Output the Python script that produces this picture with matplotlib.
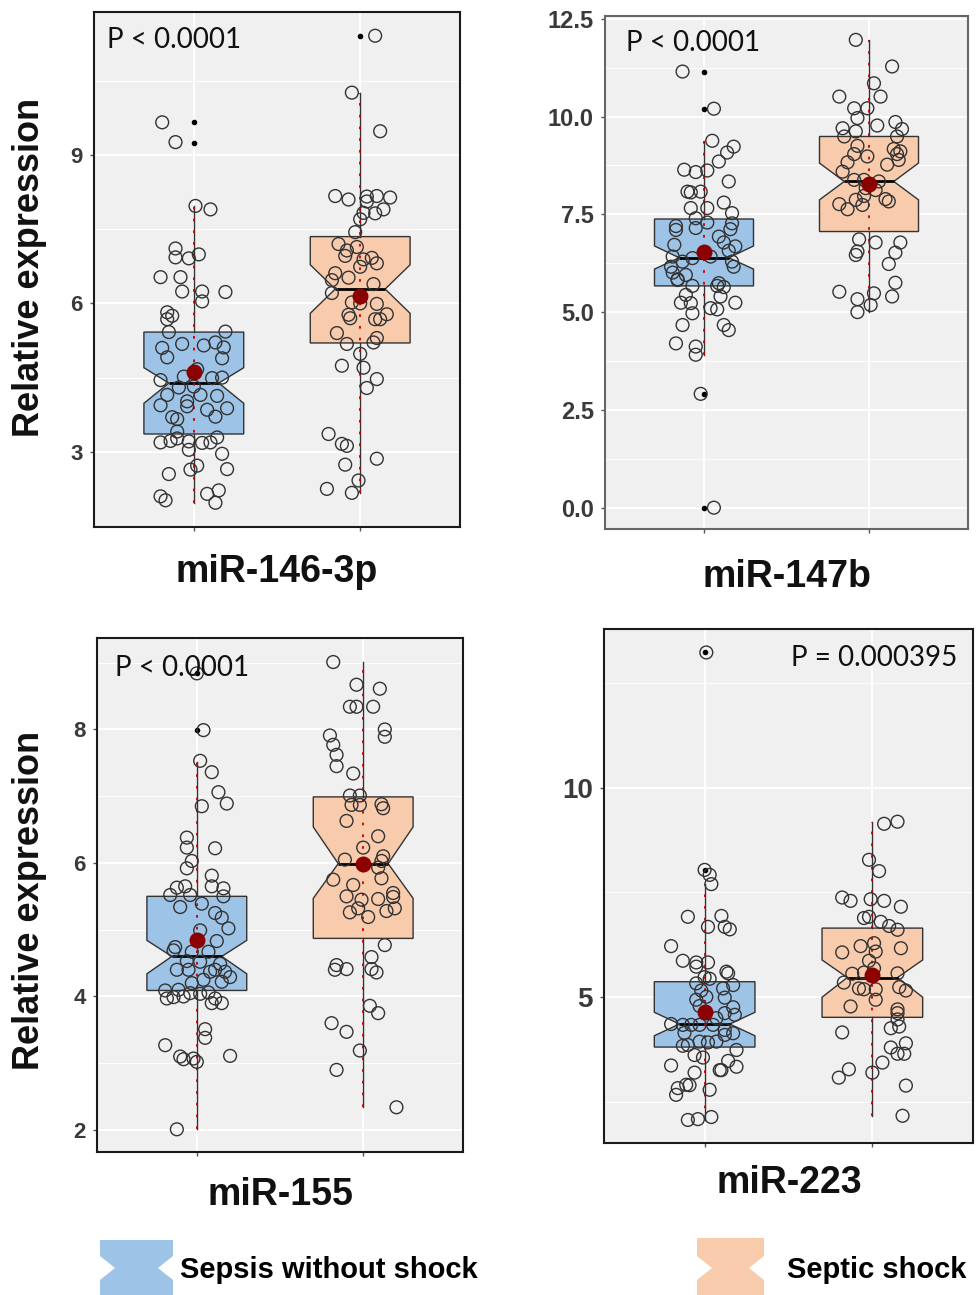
import numpy as np
import matplotlib.pyplot as plt
from matplotlib.patches import Polygon

W, H = 977, 1295

groups = ["Sepsis without shock", "Septic shock"]
colors = ["#9dc3e6", "#f8cbad"]

# jittered points as (x offset from group centre, relative expression)
pts_146_a = [(-0.19, 9.66), (-0.11, 9.26), (0.01, 7.97), (0.10, 7.90), (-0.11, 7.11), (-0.11, 6.93),
             (-0.03, 6.91), (0.03, 6.99), (-0.20, 6.53), (-0.08, 6.53), (-0.07, 6.24), (0.05, 6.24),
             (0.19, 6.23), (0.05, 6.04), (-0.16, 5.82), (-0.13, 5.75), (-0.16, 5.68), (-0.15, 5.42),
             (0.19, 5.43), (-0.07, 5.18), (0.06, 5.15), (0.13, 5.21), (-0.19, 5.10), (0.18, 5.11),
             (-0.16, 4.91), (0.17, 4.89), (0.02, 4.67), (-0.06, 4.52), (-0.20, 4.45), (0.11, 4.49),
             (0.17, 4.50), (0.00, 4.32), (-0.09, 4.30), (-0.16, 4.15), (0.04, 4.15), (0.14, 4.13),
             (-0.20, 3.94), (-0.04, 4.02), (-0.04, 3.92), (0.20, 3.88), (0.08, 3.85), (-0.13, 3.70),
             (-0.10, 3.66), (0.13, 3.71), (-0.10, 3.41), (-0.20, 3.19), (-0.14, 3.22), (-0.10, 3.27),
             (-0.03, 3.21), (0.05, 3.18), (0.10, 3.19), (0.14, 3.29), (-0.03, 3.04), (0.17, 2.96),
             (0.02, 2.72), (-0.02, 2.64), (0.20, 2.65), (-0.15, 2.55), (-0.20, 2.10), (-0.17, 2.02),
             (0.08, 2.15), (0.15, 2.22), (0.13, 1.97)]
pts_146_b = [(0.09, 11.41), (-0.05, 10.26), (0.12, 9.48), (-0.15, 8.17), (-0.07, 8.10), (0.04, 8.16),
             (0.10, 8.17), (0.18, 8.14), (0.04, 8.06), (0.14, 7.90), (0.02, 7.83), (0.09, 7.82),
             (0.00, 7.70), (-0.03, 7.44), (-0.13, 7.20), (-0.08, 7.07), (-0.02, 7.14), (-0.09, 6.96),
             (0.02, 6.89), (0.07, 6.92), (0.10, 6.81), (0.00, 6.74), (-0.15, 6.61), (-0.07, 6.52),
             (-0.17, 6.47), (0.08, 6.39), (-0.17, 6.21), (-0.05, 6.02), (0.10, 5.99), (0.00, 6.00),
             (-0.07, 5.77), (-0.06, 5.70), (0.16, 5.78), (0.09, 5.68), (0.12, 5.68), (-0.14, 5.40),
             (-0.08, 5.18), (0.08, 5.21), (0.10, 5.30), (0.00, 4.98), (-0.11, 4.74), (0.02, 4.70),
             (0.10, 4.47), (0.04, 4.29), (-0.19, 3.36), (-0.11, 3.16), (-0.08, 3.12), (-0.09, 2.74),
             (0.10, 2.86), (-0.01, 2.42), (-0.20, 2.25), (-0.05, 2.17)]

pts_147_a = [(-0.13, 11.15), (0.06, 10.20), (0.05, 9.38), (0.18, 9.23), (0.14, 9.08), (0.09, 8.85),
             (-0.12, 8.64), (-0.05, 8.58), (0.02, 8.62), (0.15, 8.34), (-0.10, 8.08), (-0.08, 8.06),
             (-0.02, 8.08), (0.12, 7.80), (-0.08, 7.66), (0.02, 7.66), (0.17, 7.53), (-0.05, 7.40),
             (0.02, 7.29), (-0.17, 7.20), (0.17, 7.27), (-0.17, 7.10), (-0.05, 7.15), (0.09, 6.93),
             (0.16, 7.12), (-0.18, 6.72), (0.12, 6.78), (0.19, 6.68), (0.15, 6.57), (-0.19, 6.42),
             (-0.07, 6.38), (-0.13, 6.29), (0.04, 6.42), (0.17, 6.29), (-0.20, 6.16), (0.18, 6.16),
             (-0.19, 6.01), (-0.11, 5.95), (-0.16, 5.84), (-0.07, 5.67), (0.09, 5.74), (0.08, 5.67),
             (-0.16, 5.82), (0.12, 5.64), (-0.11, 5.44), (0.10, 5.40), (-0.14, 5.24), (-0.08, 5.23),
             (0.19, 5.24), (0.04, 5.10), (0.08, 5.07), (-0.07, 4.97), (-0.13, 4.67), (0.12, 4.67),
             (0.15, 4.54), (-0.17, 4.20), (-0.05, 4.12), (-0.05, 3.91), (-0.02, 2.91), (0.06, 0.00)]
pts_147_b = [(-0.08, 11.96), (0.14, 11.28), (0.03, 10.85), (0.07, 10.51), (-0.18, 10.51), (-0.09, 10.21),
             (-0.01, 10.21), (-0.07, 9.96), (0.05, 9.77), (0.16, 9.86), (0.20, 9.68), (-0.16, 9.70),
             (-0.08, 9.62), (-0.15, 9.49), (0.17, 9.49), (-0.07, 9.25), (0.15, 9.17), (0.19, 9.11),
             (0.17, 9.04), (-0.09, 9.04), (-0.01, 8.98), (0.18, 8.89), (-0.13, 8.83), (0.11, 8.77),
             (-0.16, 8.59), (-0.09, 8.38), (-0.03, 8.38), (0.06, 8.34), (-0.02, 8.17), (0.04, 8.12),
             (-0.03, 7.97), (-0.08, 7.87), (0.10, 7.89), (0.12, 7.83), (-0.18, 7.76), (-0.13, 7.63),
             (-0.04, 7.74), (-0.06, 6.86), (0.04, 6.78), (0.19, 6.78), (-0.07, 6.55), (-0.08, 6.46),
             (0.16, 6.52), (0.12, 6.23), (0.16, 5.75), (-0.18, 5.52), (0.03, 5.48), (0.14, 5.40),
             (-0.07, 5.33), (0.01, 5.18), (-0.07, 5.00)]

pts_155_a = [(0.00, 8.84), (0.04, 7.99), (0.02, 7.53), (0.09, 7.36), (0.13, 7.06), (0.18, 6.89),
             (0.03, 6.85), (-0.06, 6.38), (-0.06, 6.23), (0.11, 6.22), (-0.03, 6.03), (-0.06, 5.92),
             (0.09, 5.81), (-0.12, 5.63), (-0.07, 5.65), (-0.16, 5.52), (-0.04, 5.52), (0.09, 5.65),
             (0.16, 5.62), (0.16, 5.50), (-0.10, 5.34), (0.03, 5.39), (0.11, 5.25), (0.15, 5.18),
             (0.19, 5.02), (0.02, 4.99), (0.12, 4.83), (-0.13, 4.74), (-0.14, 4.69), (-0.03, 4.67),
             (0.07, 4.67), (-0.06, 4.53), (0.02, 4.52), (0.14, 4.49), (-0.12, 4.40), (-0.05, 4.40),
             (0.11, 4.40), (0.17, 4.37), (0.08, 4.37), (0.20, 4.29), (0.04, 4.25), (0.15, 4.22),
             (-0.03, 4.20), (-0.19, 4.09), (-0.11, 4.10), (-0.04, 4.05), (0.02, 4.04), (0.07, 4.06),
             (-0.18, 3.97), (-0.14, 3.99), (-0.08, 4.00), (0.11, 3.97), (0.09, 3.90), (0.15, 3.90),
             (0.05, 3.51), (0.05, 3.38), (-0.19, 3.27), (-0.10, 3.10), (-0.08, 3.06), (-0.02, 3.07),
             (0.00, 3.02), (0.20, 3.11), (-0.12, 2.01)]
pts_155_b = [(-0.18, 9.01), (-0.04, 8.67), (0.10, 8.61), (-0.08, 8.34), (-0.04, 8.34), (0.06, 8.34),
             (0.13, 8.00), (0.13, 7.89), (-0.20, 7.91), (-0.18, 7.77), (-0.16, 7.62), (-0.16, 7.45),
             (-0.06, 7.34), (-0.08, 7.01), (-0.02, 7.01), (-0.07, 6.87), (-0.02, 6.87), (0.11, 6.88),
             (0.12, 6.82), (-0.10, 6.63), (0.09, 6.40), (0.00, 6.23), (-0.11, 6.05), (0.12, 6.10),
             (0.11, 6.03), (-0.18, 5.75), (-0.06, 5.67), (0.11, 5.77), (0.09, 5.93), (-0.10, 5.50),
             (-0.01, 5.45), (0.18, 5.55), (0.18, 5.49), (0.09, 5.46), (-0.08, 5.26), (-0.03, 5.32),
             (0.14, 5.28), (0.19, 5.32), (0.03, 5.19), (0.13, 4.77), (0.05, 4.59), (-0.16, 4.47),
             (-0.10, 4.41), (-0.17, 4.40), (0.05, 4.41), (0.08, 4.36), (0.04, 3.86), (0.09, 3.75),
             (-0.19, 3.60), (-0.10, 3.47), (-0.02, 3.19), (-0.16, 2.90), (0.20, 2.34)]

pts_223_a = [(0.01, 13.23), (0.00, 8.04), (0.03, 7.92), (0.04, 7.70), (-0.10, 6.92), (0.10, 6.94),
             (0.02, 6.68), (0.12, 6.68), (0.15, 6.62), (-0.20, 6.22), (-0.13, 5.87), (-0.05, 5.83),
             (0.02, 5.83), (-0.05, 5.73), (0.00, 5.48), (0.13, 5.61), (0.14, 5.57), (-0.05, 5.33),
             (0.03, 5.44), (0.17, 5.29), (0.11, 5.21), (-0.02, 5.16), (0.01, 5.01), (0.12, 4.99),
             (-0.05, 4.94), (-0.03, 4.79), (0.17, 4.76), (0.18, 4.58), (0.12, 4.62), (0.07, 4.50),
             (-0.20, 4.36), (-0.13, 4.34), (-0.08, 4.34), (-0.03, 4.34), (0.05, 4.34), (0.12, 4.22),
             (0.12, 4.10), (0.17, 4.14), (-0.12, 4.15), (-0.03, 3.94), (0.02, 3.92), (-0.13, 3.84),
             (-0.10, 3.86), (0.07, 3.94), (0.19, 3.74), (-0.06, 3.62), (-0.01, 3.56), (0.14, 3.48),
             (0.09, 3.26), (0.10, 3.26), (0.19, 3.34), (-0.20, 3.37), (-0.06, 3.20), (-0.11, 2.91),
             (-0.09, 2.90), (-0.16, 2.83), (-0.17, 2.67), (0.03, 2.79), (-0.10, 2.07), (-0.04, 2.09),
             (0.04, 2.14)]
pts_223_b = [(0.07, 9.14), (0.15, 9.19), (-0.02, 8.28), (0.04, 8.01), (-0.18, 7.38), (-0.13, 7.30),
             (-0.01, 7.34), (0.07, 7.30), (0.17, 7.16), (-0.05, 6.89), (-0.02, 6.92), (0.05, 6.80),
             (0.10, 6.70), (0.15, 6.61), (-0.18, 6.07), (-0.07, 6.22), (0.01, 6.29), (0.02, 6.09),
             (0.17, 6.17), (-0.02, 5.87), (0.01, 5.69), (-0.12, 5.56), (-0.05, 5.59), (0.15, 5.57),
             (-0.17, 5.35), (-0.08, 5.21), (-0.05, 5.19), (0.02, 5.19), (0.16, 5.24), (0.20, 5.16),
             (0.02, 4.94), (-0.13, 4.78), (0.15, 4.71), (0.15, 4.62), (0.15, 4.47), (0.11, 4.26),
             (0.16, 4.30), (-0.18, 4.16), (0.20, 3.90), (0.11, 3.80), (0.15, 3.65), (0.19, 3.65),
             (0.06, 3.44), (-0.14, 3.28), (-0.20, 3.08), (0.00, 3.20), (0.20, 2.89), (0.18, 2.17)]

# box stats per group: q1, median, q3, notch low, notch high, whisker low, whisker high, mean
box_146 = [[3.36, 4.39, 5.42, 3.98, 4.70, 1.97, 7.97, 4.62],
           [5.20, 6.29, 7.35, 5.80, 6.78, 2.17, 10.25, 6.15]]
box_147 = [[5.67, 6.39, 7.38, 6.10, 6.69, 3.91, 9.38, 6.53],
           [7.06, 8.34, 9.49, 7.87, 8.81, 5.00, 11.96, 8.27]]
box_155 = [[4.09, 4.60, 5.50, 4.34, 4.84, 2.01, 7.51, 4.84],
           [4.87, 5.99, 6.99, 5.47, 6.54, 2.34, 9.01, 5.98]]
box_223 = [[3.81, 4.36, 5.37, 4.08, 4.64, 2.07, 7.70, 4.64],
           [4.52, 5.47, 6.65, 5.00, 5.89, 2.17, 9.18, 5.53]]

out_146 = [[9.25, 9.66], [11.41]]
out_147 = [[0.0, 2.91, 10.20, 11.15], []]
out_155 = [[7.99, 8.84], []]
out_223 = [[8.04, 13.23], []]

ticks_146 = [3, 6, 9]
ticks_147 = [0.0, 2.5, 5.0, 7.5, 10.0, 12.5]
ticks_155 = [2, 4, 6, 8]
ticks_223 = [5, 10]
labels_147 = ["0.0", "2.5", "5.0", "7.5", "10.0", "12.5"]


def px(x, y):
    return x / W, 1 - y / H


def panel(rect, ylim, pts, box, outl, ticks, tlabels, minor, tsize, edge):
    l, t, r, b = rect
    ax = fig.add_axes([l / W, 1 - b / H, (r - l) / W, (b - t) / H])
    ax.set_facecolor("#f0f0f0")
    stats = []
    for s, f in zip(box, outl):
        stats.append(dict(q1=s[0], med=s[1], q3=s[2], cilo=s[3], cihi=s[4],
                          whislo=s[5], whishi=s[6], fliers=f))
    bp = ax.bxp(stats, positions=[1, 2], widths=0.6, shownotches=True, patch_artist=True,
                showcaps=False, manage_ticks=False,
                boxprops=dict(edgecolor="#333333", linewidth=1.0),
                whiskerprops=dict(color="#333333", linewidth=1.0),
                medianprops=dict(color="black", linewidth=2.0),
                flierprops=dict(marker="o", markersize=3, markerfacecolor="black",
                                markeredgecolor="black", linestyle="none"))
    for patch, c in zip(bp["boxes"], colors):
        patch.set_facecolor(c)
    lo = [s[5] for s in box]
    hi = [s[6] for s in box]
    ax.vlines([1, 2], lo, hi, colors="#c00000", linestyles=(0, (1.5, 5)), linewidth=1.3, zorder=3)
    for pos, p in zip([1, 2], pts):
        p = np.array(p)
        ax.scatter(pos + p[:, 0], p[:, 1], s=85, facecolors="none", edgecolors="#333333",
                   linewidths=1.0, zorder=4)
    ax.scatter([1, 2], [s[7] for s in box], s=110, color="#8b0000", zorder=5)

    ax.set_xlim(0.4, 2.6)
    ax.set_ylim(*ylim)
    ax.set_xticks([1, 2])
    ax.set_xticklabels([])
    ax.set_yticks(ticks)
    ax.set_yticklabels(tlabels, fontsize=tsize, fontweight="bold", color="#3a3a3a",
                       family="Liberation Sans")
    ax.set_yticks(minor, minor=True)
    ax.tick_params(axis="both", which="major", length=3, width=1, color="#555555", pad=5)
    ax.tick_params(axis="both", which="minor", length=0)
    ax.grid(True, which="major", color="white", linewidth=1.4)
    ax.grid(True, which="minor", axis="y", color="white", linewidth=0.8)
    ax.set_axisbelow(True)
    for sp in ax.spines.values():
        sp.set_color(edge)
        sp.set_linewidth(1.5)
    return ax


fig = plt.figure(figsize=(W / 100, H / 100), dpi=100)

panel((94, 12, 460, 527), (1.48, 11.89), [pts_146_a, pts_146_b], box_146, out_146,
      ticks_146, [str(v) for v in ticks_146], [4.5, 7.5, 10.5], 16, "#1a1a1a")
panel((605, 16, 968, 529), (-0.545, 12.57), [pts_147_a, pts_147_b], box_147, out_147,
      ticks_147, labels_147, [1.25, 3.75, 6.25, 8.75, 11.25], 17, "#666666")
panel((97, 638, 463, 1152), (1.67, 9.37), [pts_155_a, pts_155_b], box_155, out_155,
      ticks_155, [str(v) for v in ticks_155], [3, 5, 7, 9], 16, "#1a1a1a")
panel((604, 629, 973, 1143), (1.52, 13.79), [pts_223_a, pts_223_b], box_223, out_223,
      ticks_223, [str(v) for v in ticks_223], [2.5, 7.5, 12.5], 20, "#1a1a1a")

bold = dict(family="Liberation Sans", fontweight="bold", color="#111111")
fig.text(*px(30, 267), "Relative expression", rotation=90, ha="center", va="center", fontsize=26, **bold)
fig.text(*px(30, 900), "Relative expression", rotation=90, ha="center", va="center", fontsize=26, **bold)
fig.text(*px(277, 572), "miR-146-3p", ha="center", va="center", fontsize=27, **bold)
fig.text(*px(787, 577), "miR-147b", ha="center", va="center", fontsize=27, **bold)
fig.text(*px(280, 1195), "miR-155", ha="center", va="center", fontsize=27, **bold)
fig.text(*px(789, 1183), "miR-223", ha="center", va="center", fontsize=27, **bold)

ptxt = dict(family=["Lato", "DejaVu Sans"], fontsize=20, color="#111111", va="center")
fig.text(*px(107, 40), "P < 0.0001", ha="left", **ptxt)
fig.text(*px(626, 43), "P < 0.0001", ha="left", **ptxt)
fig.text(*px(115, 668), "P < 0.0001", ha="left", **ptxt)
fig.text(*px(957, 658), "P = 0.000395", ha="right", **ptxt)


# legend: notched box icons
def bowtie(x0, x1, top):
    inset = 15
    pts = [(x0, top), (x1, top), (x1, 1256), (x1 - inset, 1268), (x1, 1280), (x1, 1300),
           (x0, 1300), (x0, 1280), (x0 + inset, 1268), (x0, 1256)]
    return [px(x, y) for x, y in pts]


for (x0, x1, top), c, name, tx in zip([(100, 173, 1240), (697, 764, 1238)], colors, groups, [180, 787]):
    fig.patches.append(Polygon(bowtie(x0, x1, top), closed=True, facecolor=c, edgecolor="none",
                               transform=fig.transFigure, figure=fig))
    fig.text(*px(tx, 1270), name, ha="left", va="center", fontsize=21,
             family="Liberation Sans", fontweight="bold", color="black")

fig.savefig("out.png", dpi=100)
